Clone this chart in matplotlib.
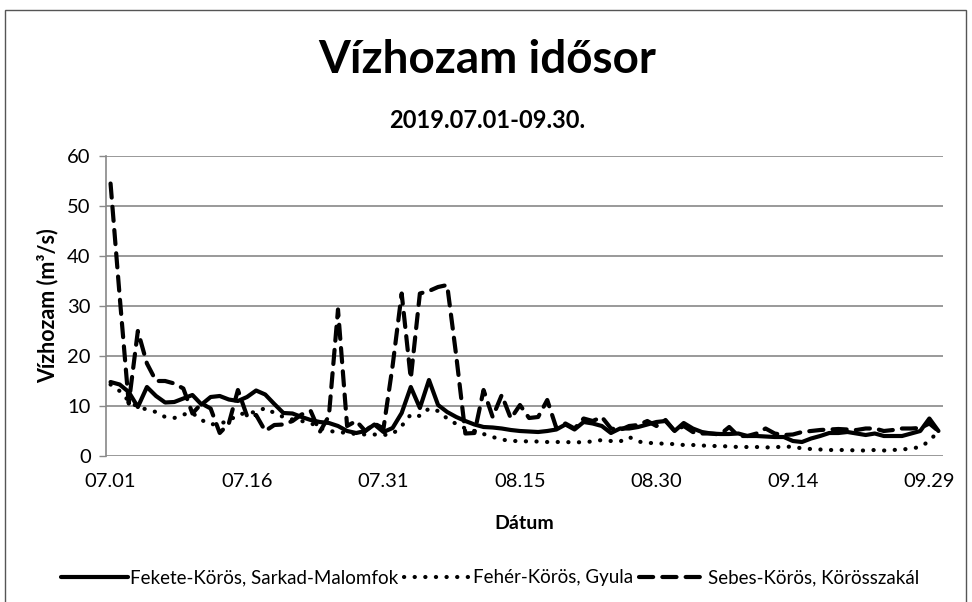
import matplotlib
matplotlib.use("Agg")
import matplotlib.pyplot as plt
import numpy as np
from matplotlib.patches import Rectangle

plt.rcParams['font.family'] = ['Lato', 'DejaVu Sans']

# 2019.07.01 - 2019.09.30 (92 days)
days = [f"{m:02d}.{d:02d}" for m, n in [(7, 31), (8, 31), (9, 30)] for d in range(1, n + 1)]

fekete = [14.8, 14.3, 12.8, 9.8, 13.8, 12.0, 10.7, 10.8, 11.5, 12.2,
          10.3, 11.8, 12.0, 11.3, 11.0, 11.8, 13.1, 12.3, 10.4, 8.6,
          8.5, 7.8, 7.2, 6.8, 6.6, 6.0, 5.0, 4.6, 5.0, 6.3,
          4.8, 5.6, 8.6, 13.8, 9.6, 15.2, 10.2, 8.8, 7.8, 7.0,
          6.3, 5.8, 5.7, 5.5, 5.2, 5.0, 4.9, 4.8, 5.0, 5.3,
          6.3, 5.3, 6.8, 6.5, 6.0, 4.6, 5.5, 5.5, 5.8, 6.3,
          6.8, 7.0, 5.0, 6.6, 5.5, 4.8, 4.5, 4.4, 4.4, 4.5,
          4.0, 4.0, 3.9, 3.8, 3.8, 3.0, 2.8, 3.5, 4.0, 4.6,
          4.6, 4.8, 4.5, 4.2, 4.5, 4.0, 4.0, 4.0, 4.5, 5.0,
          7.5, 5.0]

feher = [14.3, 13.0, 11.0, 9.8, 9.3, 8.8, 7.8, 7.6, 8.3, 8.6,
         7.2, 6.3, 6.5, 7.0, 8.3, 8.6, 8.8, 9.6, 8.6, 7.8,
         7.3, 7.0, 6.6, 5.6, 5.0, 4.8, 4.6, 4.4, 4.3, 4.3,
         4.2, 4.4, 6.0, 8.3, 8.0, 9.5, 9.0, 7.5, 6.4, 5.5,
         5.0, 4.4, 3.8, 3.3, 3.0, 3.0, 2.9, 2.9, 2.8, 2.8,
         2.8, 2.7, 2.8, 2.9, 3.2, 3.0, 2.9, 3.8, 2.9, 2.6,
         2.6, 2.4, 2.4, 2.2, 2.2, 2.1, 2.0, 2.0, 1.9, 1.8,
         1.8, 1.8, 1.7, 1.8, 1.8, 1.9, 1.5, 1.4, 1.3, 1.2,
         1.2, 1.2, 1.1, 1.1, 1.2, 1.1, 1.2, 1.3, 1.5, 1.8,
         3.0, 5.0]

sebes = [54.5, 32.0, 10.5, 25.0, 18.5, 15.0, 15.0, 14.5, 13.5, 8.5,
         10.5, 9.5, 4.6, 6.5, 13.2, 8.0, 8.2, 5.0, 6.2, 6.3,
         7.0, 8.3, 9.0, 4.8, 8.0, 29.3, 6.0, 7.0, 5.0, 6.5,
         5.5, 18.0, 32.5, 15.5, 32.5, 33.0, 33.8, 34.2, 20.0, 4.5,
         4.6, 13.2, 7.8, 12.2, 7.5, 10.2, 7.6, 7.8, 11.2, 5.6,
         6.5, 5.5, 7.5, 7.0, 7.8, 5.5, 5.2, 6.0, 6.2, 7.0,
         6.0, 7.2, 5.0, 6.0, 4.8, 4.5, 4.5, 4.3, 5.8, 4.0,
         4.0, 4.5, 5.5, 4.5, 4.2, 4.3, 4.8, 5.0, 5.2, 5.3,
         5.4, 5.3, 5.2, 5.5, 5.5, 5.0, 5.2, 5.5, 5.5, 5.6,
         6.5, 5.0]

labels = ["Fekete-Körös, Sarkad-Malomfok", "Fehér-Körös, Gyula", "Sebes-Körös, Körösszakál"]
yticks = [0, 10, 20, 30, 40, 50, 60]

W, H = 972, 602
fig = plt.figure(figsize=(W / 100, H / 100), dpi=100)
fig.patch.set_facecolor('white')
fig.add_artist(Rectangle((5 / W, -0.05), 961 / W, 1.05 - 10 / H, transform=fig.transFigure,
                         fill=False, edgecolor='#555555', lw=1.0))

ax = fig.add_axes([106 / W, 1 - 456 / H, (943 - 106) / W, 300 / H])
x = np.arange(len(days))
ax.plot(x, fekete, color='black', lw=3.0, solid_capstyle='round', solid_joinstyle='round', label=labels[0])
ax.plot(x, feher, color='black', lw=3.0, linestyle=(0, (0.05, 2.5)), dash_capstyle='round', label=labels[1])
ax.plot(x, sebes, color='black', lw=3.0, linestyle=(0, (3.4, 2.2)), dash_capstyle='round', label=labels[2])

ax.set_xlim(-0.5, len(days) - 0.5)
ax.set_ylim(0, 60)
ax.set_yticks(yticks)
tick_idx = list(range(0, len(days), 15))
ax.set_xticks(tick_idx)
ax.set_xticklabels([days[i] for i in tick_idx])
ax.tick_params(axis='x', length=0, labelsize=14.5, pad=12)
ax.tick_params(axis='y', length=5, width=1, color='#888888', labelsize=14.5, pad=6)
ax.grid(axis='y', color='#999999', lw=1.4)
ax.set_axisbelow(True)
for s in ['top', 'right', 'bottom']:
    ax.spines[s].set_visible(False)
ax.spines['left'].set_color('#888888')
ax.spines['left'].set_linewidth(1.2)

ax.set_ylabel("Vízhozam (m³/s)", fontsize=15.5, fontweight='bold', labelpad=6)
ax.set_xlabel("Dátum", fontsize=14, fontweight='bold', labelpad=18)

fig.text(487 / W, 1 - 60 / H, "Vízhozam idősor", ha='center', va='center', fontsize=33, fontweight='bold')
fig.text(487 / W, 1 - 121 / H, "2019.07.01-09.30.", ha='center', va='center', fontsize=17, fontweight='bold')

leg = fig.legend(loc='center', bbox_to_anchor=(490 / W, 1 - 578 / H), ncol=3, frameon=False,
                 fontsize=13.5, handlelength=3.6, handletextpad=0.1, columnspacing=0.3)

fig.savefig("out.png", dpi=100)
